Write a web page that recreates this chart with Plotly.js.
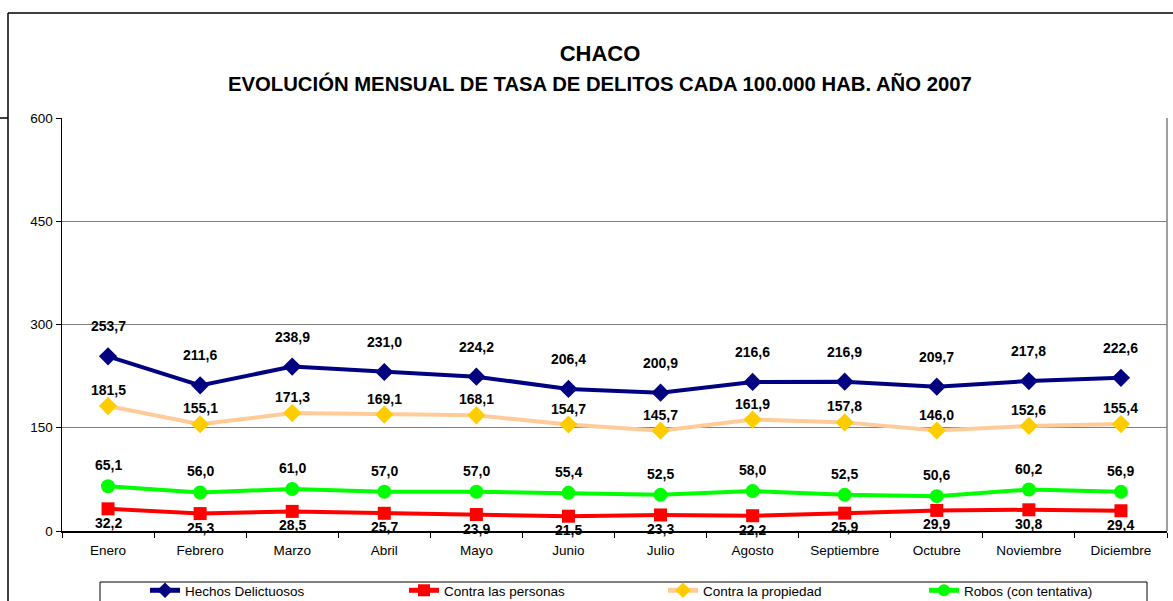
<!DOCTYPE html>
<html>
<head>
<meta charset="utf-8">
<script src="https://cdn.plot.ly/plotly-3.0.1.min.js"></script>
<style>
html,body{margin:0;padding:0;background:#fff;}
#chart{width:1173px;height:601px;}
</style>
</head>
<body>
<div id="chart"></div>
<script>
// ---- data ----
const months = ["Enero","Febrero","Marzo","Abril","Mayo","Junio","Julio","Agosto","Septiembre","Octubre","Noviembre","Diciembre"];
const hechos = [253.7, 211.6, 238.9, 231.0, 224.2, 206.4, 200.9, 216.6, 216.9, 209.7, 217.8, 222.6];
const personas = [32.2, 25.3, 28.5, 25.7, 23.9, 21.5, 23.3, 22.2, 25.9, 29.9, 30.8, 29.4];
const propiedad = [181.5, 155.1, 171.3, 169.1, 168.1, 154.7, 145.7, 161.9, 157.8, 146.0, 152.6, 155.4];
const robos = [65.1, 56.0, 61.0, 57.0, 57.0, 55.4, 52.5, 58.0, 52.5, 50.6, 60.2, 56.9];
const seriesNames = ["Hechos Delictuosos","Contra las personas","Contra la propiedad","Robos (con tentativa)"];
const yTicks = [0, 150, 300, 450, 600];
const titleText = "CHACO";
const subtitleText = "EVOLUCIÓN MENSUAL DE TASA DE DELITOS CADA 100.000 HAB. AÑO 2007";

const FONT = "Liberation Sans, Arial, sans-serif";
const fmt = v => v.toFixed(1).replace('.', ',');

const px = X => (X - 62) / 1105;
const py = Y => (531 - Y) / 413;

function mk(name, y, lineColor, markerColor, symbol, msize, legendId) {
  return {
    type: 'scatter', mode: 'lines+markers', name: name, x: months, y: y,
    line: {color: lineColor, width: 4},
    marker: {color: markerColor, symbol: symbol, size: msize, line: {width: 0}},
    cliponaxis: false, hoverinfo: 'x+y', legend: legendId
  };
}

const traces = [
  mk(seriesNames[0], hechos, '#000080', '#000080', 'diamond', 14, 'legend'),
  mk(seriesNames[1], personas, '#FF0000', '#FF0000', 'square', 13, 'legend2'),
  mk(seriesNames[2], propiedad, '#FFCC99', '#FFCC00', 'diamond', 14, 'legend3'),
  mk(seriesNames[3], robos, '#00FF00', '#00FF00', 'circle', 14, 'legend4')
];

const annotations = [];
function addLabels(arr, shift) {
  arr.forEach((v, i) => annotations.push({
    x: months[i], y: v, xref: 'x', yref: 'y', text: '<b>' + fmt(v) + '</b>', showarrow: false,
    yshift: shift, font: {family: FONT, size: 14, color: '#000'}
  }));
}
addLabels(hechos, 30);
addLabels(propiedad, 16);
addLabels(robos, 21);
addLabels(personas, -14);

annotations.push({
  xref: 'paper', yref: 'paper', x: px(600), y: py(83),
  xanchor: 'center', yanchor: 'middle', showarrow: false, text: '<b>' + subtitleText + '</b>',
  font: {family: FONT, size: 20.3, color: '#000'}
});

const shapes = [
  // outer chart frame
  {type: 'line', xref: 'paper', yref: 'paper', x0: px(8), x1: px(8), y0: py(13), y1: py(620), line: {color: '#000', width: 1.5}},
  {type: 'line', xref: 'paper', yref: 'paper', x0: px(8), x1: px(1200), y0: py(13), y1: py(13), line: {color: '#000', width: 1.5}},
  {type: 'line', xref: 'paper', yref: 'paper', x0: px(0), x1: px(8), y0: py(118), y1: py(118), line: {color: '#000', width: 1.5}},
  // plot area right border
  {type: 'line', xref: 'paper', yref: 'paper', x0: 1, x1: 1, y0: 0, y1: 1, line: {color: '#808080', width: 1.5}},
  // legend box
  {type: 'rect', xref: 'paper', yref: 'paper', x0: px(100), x1: px(1147), y0: py(582), y1: py(630), line: {color: '#000', width: 1}, fillcolor: 'rgba(0,0,0,0)'}
];

function leg(xPix) {
  return {
    orientation: 'h', x: px(xPix), xanchor: 'left', y: py(575), yanchor: 'top',
    bgcolor: 'rgba(0,0,0,0)', borderwidth: 0, itemsizing: 'constant',
    font: {family: FONT, size: 13.5, color: '#000'}, itemclick: false, itemdoubleclick: false
  };
}

const layout = {
  width: 1173, height: 601,
  margin: {l: 62, r: 6, t: 118, b: 70, autoexpand: false},
  paper_bgcolor: '#fff', plot_bgcolor: '#fff',
  font: {family: FONT, size: 13.5, color: '#000'},
  title: {text: '<b>' + titleText + '</b>', x: 600 / 1173, xref: 'container', xanchor: 'center',
          y: 1 - 53 / 601, yref: 'container', yanchor: 'middle', font: {family: FONT, size: 22, color: '#000'}},
  xaxis: {
    type: 'category', range: [-0.5, 11.5], tickson: 'boundaries', ticks: 'outside', ticklen: 5,
    tickcolor: '#000', showline: true, linecolor: '#000', linewidth: 1.5, showgrid: false,
    tickfont: {family: FONT, size: 13.5, color: '#000'}, ticklabelstandoff: 6, fixedrange: true
  },
  yaxis: {
    range: [0, 600], tickvals: yTicks, ticktext: yTicks.map(String), ticks: 'outside', ticklen: 5,
    tickcolor: '#000', showline: true, linecolor: '#000', linewidth: 1.5,
    showgrid: true, gridcolor: '#808080', gridwidth: 1, zeroline: false,
    tickfont: {family: FONT, size: 13.5, color: '#000'}, fixedrange: true
  },
  showlegend: true,
  legend: leg(145),
  legend2: leg(404),
  legend3: leg(663),
  legend4: leg(924),
  annotations: annotations,
  shapes: shapes
};

Plotly.newPlot('chart', traces, layout, {displayModeBar: false, staticPlot: true});
</script>
</body>
</html>
